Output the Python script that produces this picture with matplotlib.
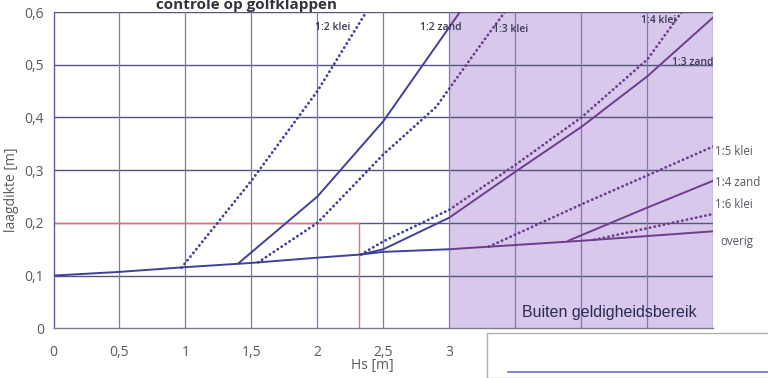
import matplotlib
matplotlib.use("Agg")
import matplotlib.pyplot as plt
from matplotlib.patches import Rectangle

# ---- data ----
overig_x = [0, 0.5, 1.0, 1.5, 2.0, 2.33, 2.5, 3.0, 3.5, 4.0, 4.5, 5.0]
overig_y = [0.100, 0.107, 0.116, 0.124, 0.134, 0.140, 0.145, 0.150, 0.158, 0.166, 0.175, 0.184]

klei12_x = [0.97, 1.5, 2.0, 2.37]
klei12_y = [0.115, 0.28, 0.45, 0.60]

zand12_x = [1.40, 2.0, 2.5, 3.08]
zand12_y = [0.123, 0.25, 0.393, 0.60]

klei13_x = [1.55, 2.0, 2.5, 2.9, 3.2, 3.42]
klei13_y = [0.125, 0.20, 0.33, 0.42, 0.525, 0.60]

zand13_x = [2.33, 2.5, 3.0, 3.5, 4.0, 4.5, 5.0]
zand13_y = [0.140, 0.150, 0.210, 0.297, 0.382, 0.478, 0.590]

klei14_x = [2.33, 2.5, 3.0, 3.5, 4.0, 4.5, 4.76]
klei14_y = [0.140, 0.165, 0.225, 0.310, 0.400, 0.510, 0.600]

klei15_x = [3.3, 4.0, 5.0]
klei15_y = [0.155, 0.235, 0.345]

zand14_x = [3.9, 4.5, 5.0]
zand14_y = [0.166, 0.229, 0.280]

klei16_x = [4.1, 5.0]
klei16_y = [0.168, 0.217]

x_ticks = [0, 0.5, 1, 1.5, 2, 2.5, 3, 3.5, 4, 4.5, 5]
x_ticklabels = ["0", "0,5", "1", "1,5", "2", "2,5", "3", "", "", "", ""]
y_ticks = [0, 0.1, 0.2, 0.3, 0.4, 0.5, 0.6]
y_ticklabels = ["0", "0,1", "0,2", "0,3", "0,4", "0,5", "0,6"]

hs_check = 2.315
d_check = 0.2
valid_limit = 3.0

series = [
    (overig_x, overig_y, "solid"),
    (klei12_x, klei12_y, "dotted"),
    (zand12_x, zand12_y, "solid"),
    (klei13_x, klei13_y, "dotted"),
    (zand13_x, zand13_y, "solid"),
    (klei14_x, klei14_y, "dotted"),
    (klei15_x, klei15_y, "dotted"),
    (zand14_x, zand14_y, "solid"),
    (klei16_x, klei16_y, "dotted"),
]

inner_labels = [("1:2 klei", 1.98, 0.571), ("1:2 zand", 2.78, 0.571),
                ("1:3 klei", 3.33, 0.566), ("1:4 klei", 4.45, 0.583),
                ("1:3 zand", 4.69, 0.505)]
right_labels = [("1:5 klei", 5.01, 0.335), ("1:4 zand", 5.01, 0.277),
                ("1:6 klei", 5.01, 0.234), ("overig", 5.05, 0.164)]

W, H = 768, 378
fig = plt.figure(figsize=(W / 100, H / 100), dpi=100)
ax = fig.add_axes([53.5 / W, 1 - 328.3 / H, (713.3 - 53.5) / W, (328.3 - 12) / H])
ax.set_xlim(0, 5)
ax.set_ylim(0, 0.6)

# shaded region
ax.axvspan(valid_limit, 5, color="#d8c8ec", zorder=0, lw=0)

# grid
for yv in y_ticks[1:]:
    ax.axhline(yv, color="#55557e", lw=1.0, zorder=1)
for xv in x_ticks[1:]:
    ax.axvline(xv, color="#7a78c4", lw=0.9, zorder=1)

# red check lines
ax.plot([0, hs_check], [d_check, d_check], color="#f06a74", lw=1.0, zorder=2)
ax.plot([hs_check, hs_check], [0, d_check], color="#f06a74", lw=1.0, zorder=2)

clip_white = Rectangle((0, 0), valid_limit, 0.6, transform=ax.transData)
clip_shade = Rectangle((valid_limit, 0), 5 - valid_limit, 0.6, transform=ax.transData)

for xs, ys, style in series:
    for clip, col in ((clip_white, "#40409a"), (clip_shade, "#6e3c8c")):
        if style == "solid":
            ln, = ax.plot(xs, ys, color=col, lw=1.4, zorder=3,
                          solid_capstyle="round")
        else:
            ln, = ax.plot(xs, ys, color=col, lw=2.0, zorder=3,
                          linestyle=(0, (0.1, 1.6)), dash_capstyle="round")
        ln.set_clip_path(clip)

for s, xv, yv in inner_labels:
    ax.text(xv, yv, s, fontsize=7.5, color="#3a3a55", va="center", ha="left",
            family="Open Sans", fontweight="semibold", zorder=4)
for s, xv, yv in right_labels:
    ax.text(xv, yv, s, fontsize=8.3, color="#555560", va="center", ha="left",
            family="Open Sans", clip_on=False, zorder=4)

ax.text(4.21, 0.016, "Buiten geldigheidsbereik", fontsize=11.5, color="#2a2a55",
        ha="center", va="bottom", family="Liberation Sans", zorder=4)

# axes styling
ax.set_xticks(x_ticks)
ax.set_xticklabels(x_ticklabels)
ax.set_yticks(y_ticks)
ax.set_yticklabels(y_ticklabels)
ax.tick_params(axis="both", length=0, labelsize=10, labelcolor="#5a5a5a")
ax.tick_params(axis="x", pad=12)
ax.tick_params(axis="y", pad=7)
for lab in ax.get_xticklabels() + ax.get_yticklabels():
    lab.set_family("Open Sans")
for side in ("top", "right"):
    ax.spines[side].set_visible(False)
ax.spines["left"].set_color("#5a5aa8")
ax.spines["bottom"].set_color("#7a7a90")
ax.spines["left"].set_linewidth(1.0)
ax.spines["bottom"].set_linewidth(1.0)

fig.text(247 / W, 1 - 9 / H, "controle op golfklappen", fontsize=11,
         fontweight="bold", color="#333340", ha="center", va="baseline",
         family="Open Sans")
fig.text(12 / W, 1 - 190 / H, "laagdikte [m]", fontsize=10, color="#5a5a5a",
         rotation=90, ha="center", va="center", family="Open Sans")
fig.text(372 / W, 1 - 366 / H, "Hs [m]", fontsize=10, color="#5a5a5a",
         ha="center", va="center", family="Open Sans")

# cropped legend box at bottom right
fig.patches.append(Rectangle((487 / W, 0), 1, (378 - 333) / H, transform=fig.transFigure,
                             facecolor="white", edgecolor="#b0b0b0", lw=1.0, zorder=5))
fig.lines.append(plt.Line2D([508 / W, 1], [1 - 372 / H, 1 - 372 / H],
                            transform=fig.transFigure, color="#7070c8", lw=1.2, zorder=6))

fig.savefig("out.png", dpi=100)
